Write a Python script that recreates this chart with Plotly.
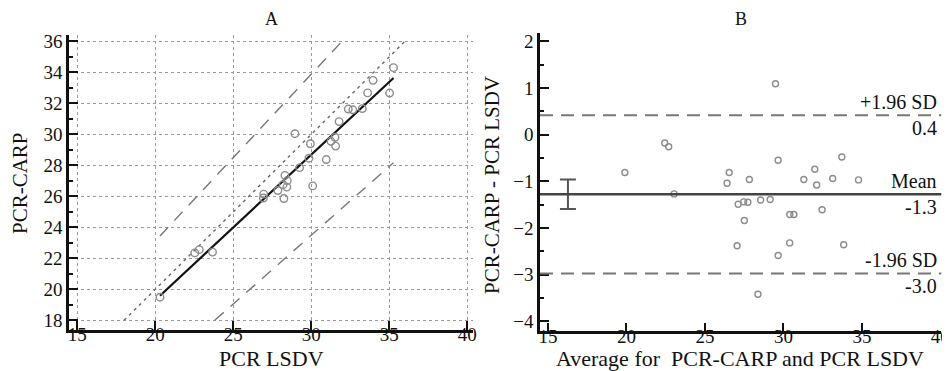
import numpy as np
import plotly.graph_objects as go

# ---- data ----
pcr_lsdv = [20.30, 22.53, 22.82, 23.67, 26.93, 26.95, 27.86, 28.19, 28.46, 28.31,
            28.43, 28.24, 29.25, 29.85, 28.95, 29.94, 30.96, 30.09, 31.26, 31.52,
            31.56, 31.78, 32.37, 32.66, 33.27, 33.61, 33.96, 35.02, 35.27]
pcr_carp = [19.49, 22.35, 22.56, 22.40, 25.89, 26.14, 26.37, 26.75, 27.01, 27.35,
            26.59, 25.86, 27.85, 28.46, 30.04, 29.39, 28.37, 26.67, 29.55, 29.81,
            29.24, 30.82, 31.63, 31.58, 31.66, 32.67, 33.48, 32.66, 34.30]

# outer band lines of panel A: (intercept, slope)
band_upper = (1.60, 1.076)
band_lower = (-3.12, 0.887)

x_ticks_a = [15, 20, 25, 30, 35, 40]
y_ticks_a = [18, 20, 22, 24, 26, 28, 30, 32, 34, 36]
x_ticks_b = [15, 20, 25, 30, 35, 40]
y_ticks_b = [2, 1, 0, -1, -2, -3, -4]

a = np.array(pcr_lsdv)
b = np.array(pcr_carp)
avg = (a + b) / 2
diff = b - a
n = len(diff)
mean_d = diff.mean()
sd_d = diff.std(ddof=1)
loa_hi = mean_d + 1.96 * sd_d
loa_lo = mean_d - 1.96 * sd_d
ci_half = 1.96 * sd_d / np.sqrt(n)

W, H = 950, 371
def px(x): return x / W
def py(y): return 1 - y / H

FONT = "Liberation Serif, Times New Roman, serif"
GRAY_MK = "#8c8c8c"

fig = go.Figure()

# ---- Panel A ----
ymin_a, ymax_a = y_ticks_a[0], y_ticks_a[-1]
fig.add_trace(go.Scatter(x=[ymin_a, ymax_a], y=[ymin_a, ymax_a], mode="lines",
                         line=dict(color="#666", width=1.4, dash="3px,4px"),
                         xaxis="x", yaxis="y", hoverinfo="skip", showlegend=False))
for (ic, sl) in (band_upper, band_lower):
    x0, x1 = a.min(), a.max()
    xlo = max(x0, (ymin_a - ic) / sl)
    xhi = min(x1, (ymax_a - ic) / sl)
    xs = np.array([xlo, xhi])
    ys = ic + sl * xs
    fig.add_trace(go.Scatter(x=xs, y=ys, mode="lines",
                             line=dict(color="#777", width=1.4, dash="12px,9px"),
                             xaxis="x", yaxis="y", hoverinfo="skip", showlegend=False))
slope, icpt = np.polyfit(a, b, 1)
xr = np.array([a.min(), a.max()])
fig.add_trace(go.Scatter(x=xr, y=icpt + slope * xr, mode="lines",
                         line=dict(color="#111", width=2.2),
                         xaxis="x", yaxis="y", hoverinfo="skip", showlegend=False))
fig.add_trace(go.Scatter(x=a, y=b, mode="markers",
                         marker=dict(symbol="circle-open", size=7.5, color=GRAY_MK,
                                     line=dict(width=1.4, color=GRAY_MK)),
                         xaxis="x", yaxis="y", showlegend=False))

# ---- Panel B ----
fig.add_trace(go.Scatter(x=avg, y=diff, mode="markers",
                         marker=dict(symbol="circle-open", size=6, color=GRAY_MK,
                                     line=dict(width=1.4, color=GRAY_MK)),
                         xaxis="x2", yaxis="y2", showlegend=False))
fig.add_trace(go.Scatter(x=[16.27], y=[mean_d], mode="markers",
                         marker=dict(size=1, color="rgba(0,0,0,0)"),
                         error_y=dict(type="constant", value=ci_half, width=8,
                                      thickness=2, color="#555"),
                         xaxis="x2", yaxis="y2", hoverinfo="skip", showlegend=False))

shapes = [
    dict(type="line", xref="x2 domain", yref="y2", x0=0, x1=1, y0=mean_d, y1=mean_d,
         line=dict(color="#444", width=2.4)),
    dict(type="line", xref="x2 domain", yref="y2", x0=0, x1=1, y0=loa_hi, y1=loa_hi,
         line=dict(color="#777", width=2, dash="13px,8px")),
    dict(type="line", xref="x2 domain", yref="y2", x0=0, x1=1, y0=loa_lo, y1=loa_lo,
         line=dict(color="#777", width=2, dash="13px,8px")),
]

ann = []
def lab(text, yv, above):
    ann.append(dict(text=text, xref="paper", yref="y2", x=px(931), y=yv,
                    xanchor="right", yanchor="bottom" if above else "top",
                    showarrow=False,
                    font=dict(family=FONT, size=20, color="#111")))
lab("+1.96 SD", loa_hi, True)
lab(f"{loa_hi:.1f}", loa_hi, False)
lab("Mean", mean_d, True)
lab(f"{mean_d:.1f}", mean_d, False)
lab("-1.96 SD", loa_lo, True)
lab(f"{loa_lo:.1f}", loa_lo, False)

def txt(text, x, y, size, angle=0):
    ann.append(dict(text=text, xref="paper", yref="paper", x=px(x), y=py(y),
                    xanchor="center", yanchor="middle", textangle=angle, showarrow=False,
                    font=dict(family=FONT, size=size, color="#111")))

txt("A", 263, 11, 18)
txt("B", 733, 11, 18)
txt("PCR LSDV", 263, 350, 22)
txt("Average for\u00a0\u00a0PCR-CARP and PCR LSDV", 732, 350, 22)
txt("PCR-CARP", 12, 175, 21, angle=-90)
txt("PCR-CARP - PCR LSDV", 484, 177, 21, angle=-90)

tickfont = dict(family=FONT, size=19, color="#111")
common = dict(showline=True, linecolor="#111", linewidth=2.5, ticks="inside", ticklen=9,
              tickwidth=2, tickcolor="#111", tickfont=tickfont, zeroline=False,
              mirror=False, fixedrange=True, automargin=False)

fig.update_layout(
    width=W, height=H, margin=dict(l=0, r=0, t=0, b=0),
    paper_bgcolor="white", plot_bgcolor="white", showlegend=False,
    xaxis=dict(domain=[px(61), px(465)], range=[14.468, 40.365], anchor="y",
               tickvals=x_ticks_a, showgrid=True, gridcolor="#9a9a9a", gridwidth=1.3,
               griddash="dot", ticklabelstandoff=-14, **common),
    yaxis=dict(domain=[py(321.7), py(26.5)], range=[17.394, 36.439], anchor="x",
               tickvals=y_ticks_a, showgrid=True, gridcolor="#9a9a9a", gridwidth=1.3,
               griddash="dot",
               minor=dict(ticks="inside", ticklen=4, tickwidth=1.5, tickcolor="#111",
                          dtick=1, tick0=0, showgrid=False), **common),
    xaxis2=dict(domain=[px(532), px(933.3)], range=[14.49, 40.06], anchor="y2",
                tickvals=x_ticks_b, showgrid=False, ticklabelstandoff=-14, **common),
    yaxis2=dict(domain=[py(323.3), py(25)], range=[-4.214, 2.178], anchor="x2",
                tickvals=y_ticks_b, showgrid=False,
                minor=dict(ticks="inside", ticklen=4, tickwidth=1.5, tickcolor="#111",
                           dtick=0.5, tick0=0, showgrid=False), **common),
    shapes=shapes, annotations=ann,
)

fig.write_html("out.html")
